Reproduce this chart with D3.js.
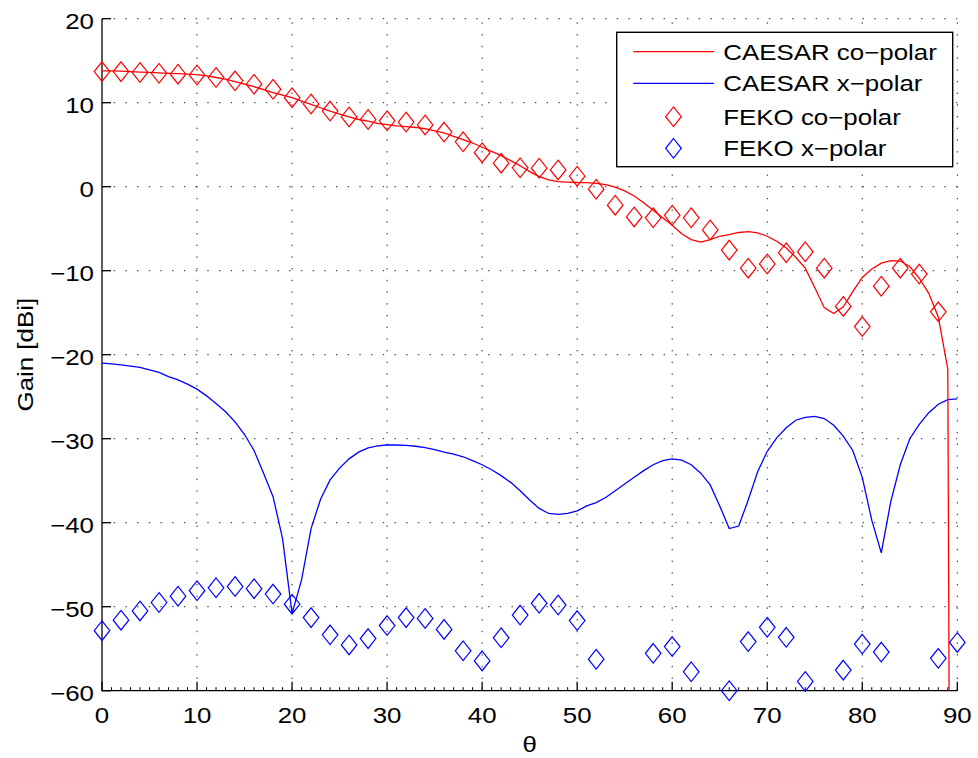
<!DOCTYPE html>
<html>
<head>
<meta charset="utf-8">
<script src="https://cdn.jsdelivr.net/npm/d3@7"></script>
<style>
  html, body { margin: 0; padding: 0; background: #fff; }
  svg { display: block; }
  text { font-family: "Liberation Sans", Arial, Helvetica, sans-serif; fill: #000; }
</style>
</head>
<body>
<svg id="chart" width="978" height="758"></svg>
<script>
// ---------------- data ----------------
const thetaLine = [0,1,2,3,4,5,6,7,8,9,10,11,12,13,14,15,16,17,18,19,20,21,22,23,24,25,26,27,28,29,30,
  31,32,33,34,35,36,37,38,39,40,41,42,43,44,45,46,47,48,49,50,51,52,53,54,55,56,57,58,59,60,
  61,62,63,64,65,66,67,68,69,70,71,72,73,74,75,76,77,78,79,80,81,82,83,84,85,86,87,88,89,90];

const caesarCo = [13.8,13.8,13.75,13.7,13.65,13.6,13.55,13.5,13.45,13.4,13.35,13.2,13.0,12.8,12.5,12.2,11.9,11.55,11.2,10.9,10.6,
  10.2,9.8,9.4,9.0,8.65,8.3,8.0,7.8,7.55,7.4,7.25,7.15,7.05,6.9,6.65,6.4,6.0,5.6,5.2,4.7,
  4.2,3.7,3.1,2.5,1.8,1.2,0.8,0.6,0.55,0.5,0.48,0.4,0.25,-0.05,-0.5,-1.1,-1.9,-2.8,-3.7,-4.6,
  -5.6,-6.3,-6.6,-6.3,-5.9,-5.7,-5.45,-5.35,-5.5,-5.9,-6.5,-7.3,-8.4,-9.7,-12.0,-14.4,-15.1,-14.3,-12.5,-10.8,
  -9.8,-9.1,-8.8,-8.85,-9.5,-10.9,-12.7,-15.5,-21.7,-300];

const caesarX = [-21.0,-21.1,-21.2,-21.35,-21.5,-21.8,-22.1,-22.6,-23.0,-23.5,-24.1,-24.9,-25.8,-26.8,-28.0,-29.5,-31.4,-34.1,-36.9,-41.9,-50.8,
  -46.8,-40.7,-37.2,-34.9,-33.5,-32.4,-31.6,-31.1,-30.85,-30.75,-30.75,-30.8,-30.9,-31.05,-31.3,-31.6,-31.85,-32.15,-32.6,-33.1,
  -33.7,-34.4,-35.2,-36.2,-37.3,-38.3,-38.9,-39.0,-38.9,-38.6,-38.0,-37.6,-37.0,-36.2,-35.4,-34.6,-33.8,-33.1,-32.6,-32.4,
  -32.55,-33.1,-34.1,-35.5,-38.0,-40.7,-40.4,-37.3,-33.9,-31.5,-29.9,-28.7,-27.8,-27.45,-27.35,-27.6,-28.4,-29.7,-31.4,-34.6,
  -39.7,-43.6,-37.5,-33.1,-30.0,-28.3,-26.9,-25.9,-25.35,-25.25];

const thetaFeko = [0,2,4,6,8,10,12,14,16,18,20,22,24,26,28,30,32,34,36,38,40,42,44,46,48,50,52,54,56,58,60,62,64,66,68,70,72,74,76,78,80,82,84,86,88,90];

const fekoCo = [13.7,13.7,13.6,13.5,13.4,13.3,13.0,12.6,12.2,11.6,10.6,9.85,9.0,8.3,8.0,7.85,7.7,7.35,6.5,5.35,4.05,
  2.8,2.25,2.2,2.0,1.25,-0.3,-2.2,-3.6,-3.7,-3.4,-3.7,-5.15,-7.55,-9.7,-9.2,-7.85,-7.75,-9.7,-14.25,-16.65,
  -11.85,-9.7,-10.4,-14.9,null];

const fekoX = [-52.85,-51.6,-50.5,-49.5,-48.75,-48.1,-47.75,-47.6,-47.85,-48.5,-49.7,-51.3,-53.35,-54.55,-53.8,-52.25,-51.3,-51.4,-52.7,-55.25,-56.45,
  -53.7,-51.0,-49.6,-49.8,-51.65,-56.25,null,null,-55.55,-54.75,-57.75,null,-60.0,-54.15,-52.45,-53.65,-58.9,null,-57.55,-54.45,
  -55.4,null,null,-56.15,-54.25];

const xTicks = [0,10,20,30,40,50,60,70,80,90];
const yTicks = [-60,-50,-40,-30,-20,-10,0,10,20];
const legendLabels = ["CAESAR co\u2212polar", "CAESAR x\u2212polar", "FEKO co\u2212polar", "FEKO x\u2212polar"];
const colors = { co: "#ff0000", x: "#0000ff" };

// ---------------- layout ----------------
const svg = d3.select("#chart");
const L = 102, R = 957.3, T = 18.7, B = 690.7;
const x = d3.scaleLinear().domain([0, 90]).range([L, R]);
const y = d3.scaleLinear().domain([-60, 20]).range([B, T]);
const FS = 22.5, SX = 1.15;
const fmt = v => (v < 0 ? "\u2212" + Math.abs(v) : String(v));

svg.append("defs").append("clipPath").attr("id", "plotclip")
  .append("rect").attr("x", L).attr("y", T).attr("width", R - L).attr("height", B - T);

// grid
const grid = svg.append("g").attr("stroke", "#222").attr("stroke-width", 1)
  .attr("stroke-dasharray", "1.4,10.3").attr("fill", "none");
xTicks.filter(t => t > 0).forEach(t => {
  grid.append("line").attr("x1", x(t)).attr("x2", x(t)).attr("y1", B).attr("y2", T);
});
yTicks.filter(t => t > -60).forEach(t => {
  grid.append("line").attr("x1", L).attr("x2", R).attr("y1", y(t)).attr("y2", y(t));
});

// axes (MATLAB style, ticks inward)
const ax = svg.append("g").attr("stroke", "#000").attr("stroke-width", 1.3);
ax.append("line").attr("x1", L).attr("x2", R).attr("y1", B).attr("y2", B);
ax.append("line").attr("x1", L).attr("x2", L).attr("y1", B + 0.65).attr("y2", T);
x.ticks(90).filter(t => xTicks.indexOf(t) < 0).forEach(t => {
  ax.append("line").attr("x1", x(t)).attr("x2", x(t)).attr("y1", B).attr("y2", B - 3.5).attr("stroke-width", 1);
});
xTicks.forEach(t => {
  ax.append("line").attr("x1", x(t)).attr("x2", x(t)).attr("y1", B).attr("y2", B - 9);
});
yTicks.forEach(t => {
  ax.append("line").attr("x1", L).attr("x2", L + 9).attr("y1", y(t)).attr("y2", y(t));
});

function addText(g, str, px, py, anchor) {
  g.append("text").attr("transform", `translate(${px},${py}) scale(${SX},1)`)
    .attr("text-anchor", anchor).attr("font-size", FS).text(str);
}
const lab = svg.append("g");
xTicks.forEach(t => addText(lab, fmt(t), x(t), B + 32, "middle"));
yTicks.forEach(t => addText(lab, fmt(t), L - 8, y(t) + 10.2, "end"));
addText(lab, "\u03b8", x(45), 752, "middle");
lab.append("text").attr("transform", `translate(33,${(T + B) / 2}) rotate(-90) scale(${SX},1)`)
  .attr("text-anchor", "middle").attr("font-size", FS).text("Gain [dBi]");

// lines
const lineGen = d3.line().x(d => x(d[0])).y(d => y(d[1]));
const lines = svg.append("g").attr("clip-path", "url(#plotclip)").attr("fill", "none").attr("stroke-width", 1.3);
lines.append("path").attr("stroke", colors.x).attr("d", lineGen(thetaLine.map((t, i) => [t, caesarX[i]])));
lines.append("path").attr("stroke", colors.co).attr("d", lineGen(thetaLine.map((t, i) => [t, caesarCo[i]])));

// markers
const diamond = "M0,-9.8L7.8,0L0,9.8L-7.8,0Z";
function markers(vals, col) {
  svg.append("g").selectAll("path")
    .data(thetaFeko.map((t, i) => [t, vals[i]]).filter(d => d[1] !== null && d[1] >= -60 && d[1] <= 20))
    .join("path")
    .attr("d", diamond)
    .attr("transform", d => `translate(${x(d[0])},${y(d[1])})`)
    .attr("fill", "none").attr("stroke", col).attr("stroke-width", 1.2);
}
markers(fekoCo, colors.co);
markers(fekoX, colors.x);

// legend
const lg = svg.append("g");
lg.append("rect").attr("x", 616.7).attr("y", 32.3).attr("width", 336).attr("height", 134.4)
  .attr("fill", "#fff").attr("stroke", "#000").attr("stroke-width", 1.4);
const rowsY = [51.7, 83.3, 116.7, 148.3];
lg.append("line").attr("x1", 633.3).attr("x2", 714).attr("y1", rowsY[0]).attr("y2", rowsY[0]).attr("stroke", colors.co).attr("stroke-width", 1.3);
lg.append("line").attr("x1", 633.3).attr("x2", 714).attr("y1", rowsY[1]).attr("y2", rowsY[1]).attr("stroke", colors.x).attr("stroke-width", 1.3);
lg.append("path").attr("d", diamond).attr("transform", `translate(673.5,${rowsY[2]})`).attr("fill", "none").attr("stroke", colors.co).attr("stroke-width", 1.2);
lg.append("path").attr("d", diamond).attr("transform", `translate(673.5,${rowsY[3]})`).attr("fill", "none").attr("stroke", colors.x).attr("stroke-width", 1.2);
legendLabels.forEach((s, i) => addText(lg, s, 723.3, rowsY[i] + 8, "start"));
</script>
</body>
</html>
